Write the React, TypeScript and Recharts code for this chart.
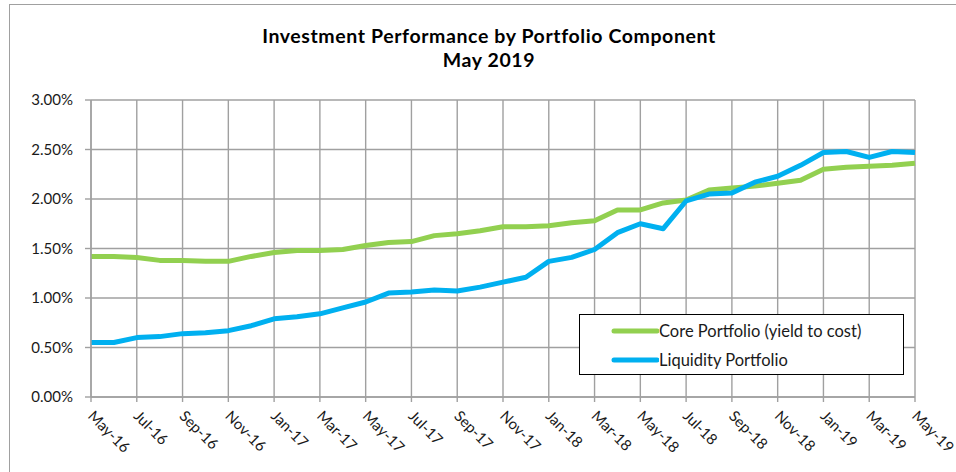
import { LineChart, Line, XAxis, YAxis, CartesianGrid, Legend } from 'recharts';

const months = [
  'May-16', 'Jun-16', 'Jul-16', 'Aug-16', 'Sep-16', 'Oct-16', 'Nov-16', 'Dec-16',
  'Jan-17', 'Feb-17', 'Mar-17', 'Apr-17', 'May-17', 'Jun-17', 'Jul-17', 'Aug-17',
  'Sep-17', 'Oct-17', 'Nov-17', 'Dec-17', 'Jan-18', 'Feb-18', 'Mar-18', 'Apr-18',
  'May-18', 'Jun-18', 'Jul-18', 'Aug-18', 'Sep-18', 'Oct-18', 'Nov-18', 'Dec-18',
  'Jan-19', 'Feb-19', 'Mar-19', 'Apr-19', 'May-19',
];

// percent values
const coreYield = [
  1.42, 1.42, 1.41, 1.38, 1.38, 1.37, 1.37, 1.42, 1.46, 1.48, 1.48, 1.49, 1.53,
  1.56, 1.57, 1.63, 1.65, 1.68, 1.72, 1.72, 1.73, 1.76, 1.78, 1.89, 1.89, 1.96,
  1.99, 2.09, 2.11, 2.13, 2.16, 2.19, 2.30, 2.32, 2.33, 2.34, 2.36,
];

const liquidity = [
  0.55, 0.55, 0.60, 0.61, 0.64, 0.65, 0.67, 0.72, 0.79, 0.81, 0.84, 0.90, 0.96,
  1.05, 1.06, 1.08, 1.07, 1.11, 1.16, 1.21, 1.37, 1.41, 1.49, 1.66, 1.75, 1.70,
  1.98, 2.05, 2.06, 2.17, 2.23, 2.34, 2.47, 2.48, 2.42, 2.48, 2.47,
];

const yTicks = [0, 0.5, 1, 1.5, 2, 2.5, 3];

const data = months.map((m, i) => ({ month: m, core: coreYield[i], liquidity: liquidity[i] }));

const FONT = 'Lato, "Open Sans", sans-serif';
const GREEN = '#92D050';
const BLUE = '#00B0F0';
const GRID = '#a0a0a0';

const XTick = ({ x, y, payload }: any) => {
  const tx = x - 4;
  const ty = y + 13;
  return (
    <text
      x={tx}
      y={ty}
      transform={`rotate(45, ${tx}, ${ty})`}
      textAnchor="start"
      fill="#1a1a1a"
      fontSize={15}
      fontFamily={FONT}
    >
      {payload.value}
    </text>
  );
};

const renderLegend = () => {
  const rows = [
    { label: 'Core Portfolio (yield to cost)', color: GREEN },
    { label: 'Liquidity Portfolio', color: BLUE },
  ];
  return (
    <div
      style={{
        boxSizing: 'border-box',
        width: 325,
        height: 61,
        border: '1.3px solid #000',
        background: '#fff',
        paddingTop: 3,
      }}
    >
      {rows.map((r) => (
        <div key={r.label} style={{ display: 'flex', alignItems: 'center', height: 25, marginBottom: 4 }}>
          <svg width={79} height={10} style={{ flex: 'none' }}>
            <line x1={34} y1={5} x2={77} y2={5} stroke={r.color} strokeWidth={5} strokeLinecap="round" />
          </svg>
          <span style={{ fontFamily: FONT, fontSize: 16.5, color: '#1a1a1a', whiteSpace: 'nowrap' }}>{r.label}</span>
        </div>
      ))}
    </div>
  );
};

export default function App() {
  return (
    <div style={{ position: 'absolute', left: 0, top: 0, width: 956, height: 472, overflow: 'hidden', background: '#fff' }}>
      <div
        style={{
          position: 'absolute',
          left: 9,
          top: 4,
          width: 990,
          height: 500,
          border: '1.5px solid #a0a0a0',
        }}
      />
      <div
        style={{
          position: 'absolute',
          left: 0,
          top: 24,
          width: 978,
          textAlign: 'center',
          fontFamily: FONT,
          fontWeight: 700,
          fontSize: 19.5,
          letterSpacing: 0.6,
          lineHeight: '24px',
          color: '#000',
        }}
      >
        <div>Investment Performance by Portfolio Component</div>
        <div>May 2019</div>
      </div>
      <div style={{ position: 'absolute', left: 0, top: 0 }}>
        <LineChart width={956} height={472} data={data} margin={{ top: 100, right: 41, bottom: 15, left: 10 }}>
          <CartesianGrid stroke={GRID} strokeWidth={1.4} />
          <XAxis
            dataKey="month"
            interval={1}
            tickSize={5}
            tickMargin={2}
            height={60}
            axisLine={{ stroke: GRID, strokeWidth: 1.4 }}
            tickLine={{ stroke: GRID, strokeWidth: 1.4 }}
            tick={<XTick />}
          />
          <YAxis
            width={81}
            domain={[0, 3]}
            ticks={yTicks}
            tickSize={6}
            tickMargin={12}
            axisLine={{ stroke: GRID, strokeWidth: 1.4 }}
            tickLine={{ stroke: GRID, strokeWidth: 1.4 }}
            tickFormatter={(v: number) => `${v.toFixed(2)}%`}
            tick={{ fill: '#1a1a1a', fontSize: 15, fontFamily: FONT }}
          />
          <Legend
            layout="vertical"
            align="center"
            verticalAlign="middle"
            content={renderLegend}
            wrapperStyle={{ left: 579, top: 314, width: 325, height: 61 }}
          />
          <Line
            type="linear"
            dataKey="core"
            name="Core Portfolio (yield to cost)"
            stroke={GREEN}
            strokeWidth={5}
            dot={false}
            strokeLinejoin="round"
            isAnimationActive={false}
          />
          <Line
            type="linear"
            dataKey="liquidity"
            name="Liquidity Portfolio"
            stroke={BLUE}
            strokeWidth={5}
            dot={false}
            strokeLinejoin="round"
            isAnimationActive={false}
          />
        </LineChart>
      </div>
    </div>
  );
}
